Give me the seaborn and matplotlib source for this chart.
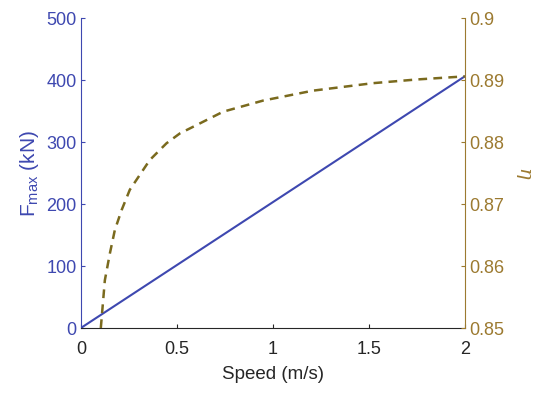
import numpy as np
import pandas as pd
import matplotlib
matplotlib.use("Agg")
import matplotlib.pyplot as plt
import seaborn as sns

sns.set_style("white")
plt.rcParams['font.family'] = ['Liberation Sans', 'DejaVu Sans']
plt.rcParams['mathtext.fontset'] = 'custom'
plt.rcParams['mathtext.rm'] = 'Liberation Sans'
plt.rcParams['mathtext.it'] = 'DejaVu Serif:italic'
plt.rcParams['font.size'] = 13

# force vs speed (linear)
speed_force = [0.0, 2.0]
force_kn = [0.0, 406.0]

# efficiency vs speed
speed_eta = [0.104, 0.125, 0.151, 0.177, 0.212, 0.255, 0.307, 0.359, 0.446,
             0.516, 0.60, 0.741, 0.95, 1.21, 1.52, 1.75, 2.0]
eta = [0.850, 0.8577, 0.8620, 0.8658, 0.8690, 0.8723, 0.8747, 0.8771, 0.8798,
       0.8814, 0.8827, 0.8849, 0.8867, 0.8883, 0.8895, 0.8901, 0.8906]

blue = '#3E48B0'
gold = '#9C7A30'
olive = '#7A6A1E'

df_f = pd.DataFrame({'speed': speed_force, 'force': force_kn})
df_e = pd.DataFrame({'speed': speed_eta, 'eta': eta})

fig = plt.figure(figsize=(5.5, 3.94), dpi=100)
ax = fig.add_axes([0.147, 0.1675, 0.698, 0.7865])
ax2 = ax.twinx()

sns.lineplot(data=df_f, x='speed', y='force', ax=ax, color=blue, linewidth=1.5)
sns.lineplot(data=df_e, x='speed', y='eta', ax=ax2, color=olive, linewidth=1.8,
             linestyle=(0, (3.5, 2.5)))

ax.set_xlim(0, 2)
ax.set_ylim(0, 500)
ax2.set_ylim(0.85, 0.9)
ax.set_xticks([0, 0.5, 1, 1.5, 2])
ax.set_xticklabels(['0', '0.5', '1', '1.5', '2'])
ax.set_yticks([0, 100, 200, 300, 400, 500])
ax2.set_yticks([0.85, 0.86, 0.87, 0.88, 0.89, 0.9])
ax2.set_yticklabels(['0.85', '0.86', '0.87', '0.88', '0.89', '0.9'])

ax.set_xlabel('Speed (m/s)', color='#262626', fontsize=13.5, labelpad=6)
ax.set_ylabel(r'F$_{\mathrm{max}}$ (kN)', color=blue, fontsize=15, labelpad=4)
ax2.set_ylabel(r'$\eta$', color=gold, fontsize=14, rotation=270, labelpad=20)

for a in (ax, ax2):
    a.spines['top'].set_visible(False)
ax.spines['left'].set_color(blue)
ax.spines['bottom'].set_color('#262626')
ax2.spines['right'].set_color(gold)
ax2.spines['left'].set_visible(False)
ax2.spines['bottom'].set_visible(False)
ax.spines['right'].set_visible(False)

ax.tick_params(axis='x', direction='in', length=3, colors='#262626', labelsize=13, pad=9)
ax.tick_params(axis='y', direction='in', length=3, colors=blue, labelsize=13, pad=3)
ax2.tick_params(axis='y', direction='in', length=3, colors=gold, labelsize=13, pad=3)
ax.tick_params(axis='y', left=True)
ax.tick_params(axis='x', bottom=True)
ax2.tick_params(axis='y', right=True)

fig.savefig('out.png', dpi=100)
